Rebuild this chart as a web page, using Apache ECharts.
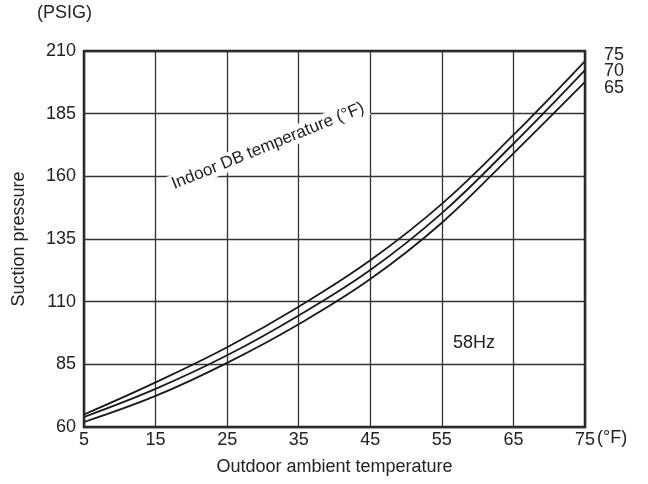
<!DOCTYPE html>
<html>
<head>
<meta charset="utf-8">
<script src="https://cdn.jsdelivr.net/npm/echarts@6/dist/echarts.min.js"></script>
<style>html,body{margin:0;padding:0;background:#fff}#c{width:648px;height:484px}</style>
</head>
<body>
<div id="c"></div>
<script>
var xTemps = [5, 15, 25, 35, 45, 55, 65, 75];
var yTicks = [60, 85, 110, 135, 160, 185, 210];
var indoor75 = [65, 77.8, 91.8, 108, 126.5, 149, 176.5, 206];
var indoor70 = [64, 75.2, 88.6, 104.5, 122.6, 145.3, 173, 202.4];
var indoor65 = [62, 72.4, 85.6, 101, 119, 141.5, 169.2, 197.7];
var seriesNames = ['75', '70', '65'];

var F = '"Liberation Sans", Arial, sans-serif';
function pairs(arr){ return xTemps.map(function(x,i){return [x, arr[i]];}); }
function lineSeries(name, arr){
  return {name:name, type:'line', data:pairs(arr), smooth:0.4, symbol:'none',
    lineStyle:{color:'#1a1a1a', width:1.8}, z:5};
}
var chart = echarts.init(document.getElementById('c'), null, {renderer:'canvas'});
chart.setOption({
  animation:false,
  backgroundColor:'#fff',
  grid:{left:84, right:63, top:51, bottom:57, show:true, borderColor:'#222', borderWidth:2.5, backgroundColor:'transparent'},
  xAxis:{type:'value', min:5, max:75, interval:10,
    name:'Outdoor ambient temperature', nameLocation:'middle', nameGap:31,
    nameTextStyle:{fontFamily:F, fontSize:18, color:'#222'},
    axisLine:{show:false}, axisTick:{show:false},
    axisLabel:{fontFamily:F, fontSize:18, color:'#222', margin:4},
    splitLine:{show:true, lineStyle:{color:'#333', width:1.3}}},
  yAxis:{type:'value', min:60, max:210, interval:25,
    name:'Suction pressure', nameLocation:'middle', nameGap:56, nameRotate:90,
    nameTextStyle:{fontFamily:F, fontSize:18, color:'#222'},
    axisLine:{show:false}, axisTick:{show:false},
    axisLabel:{fontFamily:F, fontSize:18, color:'#222', margin:8},
    splitLine:{show:true, lineStyle:{color:'#333', width:1.3}}},
  series:[lineSeries(seriesNames[0], indoor75), lineSeries(seriesNames[1], indoor70), lineSeries(seriesNames[2], indoor65)],
  graphic:[
    {type:'text', left:37, top:4, style:{text:'(PSIG)', font:'18px '+F, fill:'#222'}},
    {type:'text', left:597, top:429, style:{text:'(°F)', font:'18px '+F, fill:'#222'}},
    {type:'text', left:604, top:46, style:{text:seriesNames[0], font:'18px '+F, fill:'#222'}},
    {type:'text', left:604, top:62, style:{text:seriesNames[1], font:'18px '+F, fill:'#222'}},
    {type:'text', left:604, top:79, style:{text:seriesNames[2], font:'18px '+F, fill:'#222'}},
    {type:'text', left:453, top:334, style:{text:'58Hz', font:'18px '+F, fill:'#222'}},
    {type:'text', x:268, y:146, rotation:0.385, style:{text:'Indoor DB temperature (°F)', font:'17px '+F, fill:'#222', align:'center', verticalAlign:'middle', backgroundColor:'#fff', padding:[1,4]}, z:10}
  ]
});
</script>
</body>
</html>
